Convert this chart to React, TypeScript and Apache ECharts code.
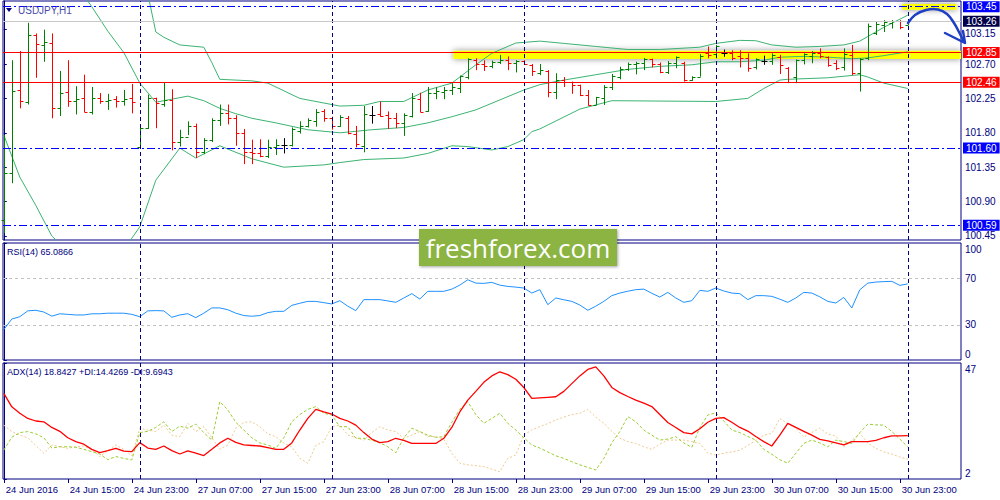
import React, { useEffect, useRef } from 'react';
import * as echarts from 'echarts';

// time labels under the ADX pane, one every 8 hourly bars
const tickLabels = [
  '24 Jun 2016', '24 Jun 15:00', '24 Jun 23:00', '27 Jun 07:00', '27 Jun 15:00',
  '27 Jun 23:00', '28 Jun 07:00', '28 Jun 15:00', '28 Jun 23:00', '29 Jun 07:00',
  '29 Jun 15:00', '29 Jun 23:00', '30 Jun 07:00', '30 Jun 15:00', '30 Jun 23:00',
];

// USDJPY H1 bars (114 bars)
const opens = [
  100.66, 101.27, 102.36, 102.2, 103.08, 102.95, 102.98, 102.13, 102.34, 102.21,
  102.25, 102.07, 102.25, 102.21, 102.24, 102.22, 102.25, 101.62, 101.86, 102.25,
  102.18, 102.23, 101.68, 101.75, 101.89, 101.55, 101.71, 101.97, 102.06, 102.0,
  101.8, 101.55, 101.53, 101.49, 101.61, 101.64, 101.64, 101.83, 101.89, 101.96,
  102.085, 102.0, 101.89, 102.0, 101.79, 101.63, 102.03, 102.05, 102.03, 101.99,
  101.93, 102.02, 102.24, 102.08, 102.32, 102.34, 102.36, 102.38, 102.53, 102.75,
  102.7, 102.67, 102.73, 102.75, 102.72, 102.74, 102.69, 102.58, 102.61, 102.34,
  102.49, 102.46, 102.425, 102.295, 102.17, 102.26, 102.4, 102.53, 102.63, 102.7,
  102.72, 102.76, 102.7, 102.6, 102.71, 102.72, 102.49, 102.53, 102.84, 102.83,
  102.85, 102.85, 102.8, 102.775, 102.665, 102.745, 102.745, 102.795, 102.645, 102.535,
  102.755, 102.805, 102.85, 102.79, 102.72, 102.665, 102.82, 102.58, 102.775, 103.11,
  103.21, 103.24, 103.265, 103.21,
];
const highs = [
  101.77, 102.75, 102.87, 103.24, 103.1, 103.15, 103.1, 102.61, 102.75, 102.41,
  102.56, 102.4, 102.32, 102.31, 102.28, 102.36, 102.44, 101.88, 102.3, 102.26,
  102.46, 102.37, 101.84, 101.95, 101.92, 101.73, 101.99, 102.17, 102.17, 102.03,
  101.85, 101.71, 101.715, 101.71, 101.715, 101.73, 101.87, 101.95, 101.99, 102.11,
  102.11, 102.01, 102.03, 102.02, 101.89, 102.15, 102.15, 102.21, 102.08, 102.06,
  102.055, 102.32, 102.325, 102.4, 102.395, 102.4, 102.45, 102.55, 102.775, 102.775,
  102.75, 102.745, 102.82, 102.8, 102.75, 102.75, 102.7, 102.7, 102.62, 102.58,
  102.53, 102.47, 102.43, 102.36, 102.27, 102.425, 102.57, 102.665, 102.72, 102.73,
  102.78, 102.77, 102.72, 102.74, 102.8, 102.73, 102.54, 102.83, 102.93, 102.95,
  102.89, 102.88, 102.88, 102.84, 102.775, 102.81, 102.84, 102.82, 102.66, 102.76,
  102.84, 102.87, 102.905, 102.8, 102.75, 102.905, 102.95, 102.775, 103.23, 103.25,
  103.275, 103.275, 103.275, 103.27,
];
const lows = [
  100.485, 101.14, 102.12, 102.17, 102.52, 102.73, 101.99, 102.02, 102.14, 102.04,
  102.07, 102.04, 102.18, 102.1, 102.13, 102.155, 102.055, 101.61, 101.85, 101.86,
  102.14, 101.57, 101.62, 101.77, 101.47, 101.52, 101.68, 101.89, 101.91, 101.63,
  101.39, 101.39, 101.48, 101.47, 101.51, 101.53, 101.62, 101.79, 101.87, 101.88,
  101.945, 101.84, 101.88, 101.78, 101.61, 101.545, 101.92, 102.01, 101.85, 101.86,
  101.76, 102.0, 102.07, 102.075, 102.24, 102.24, 102.295, 102.32, 102.5, 102.62,
  102.61, 102.645, 102.7, 102.62, 102.59, 102.69, 102.545, 102.555, 102.265, 102.24,
  102.4, 102.31, 102.28, 102.155, 102.165, 102.165, 102.36, 102.5, 102.61, 102.565,
  102.62, 102.655, 102.58, 102.57, 102.645, 102.47, 102.48, 102.535, 102.775, 102.775,
  102.795, 102.75, 102.655, 102.6, 102.63, 102.69, 102.69, 102.57, 102.45, 102.45,
  102.695, 102.71, 102.775, 102.665, 102.62, 102.615, 102.555, 102.34, 102.75, 103.08,
  103.12, 103.165, 103.155, 103.21,
];
const closes = [
  101.27, 102.35, 102.215, 103.08, 102.96, 102.985, 102.12, 102.32, 102.21, 102.24,
  102.07, 102.26, 102.22, 102.23, 102.22, 102.245, 102.2, 101.865, 102.25, 102.185,
  102.23, 101.685, 101.75, 101.89, 101.555, 101.705, 101.97, 102.065, 102.0, 101.8,
  101.55, 101.53, 101.49, 101.61, 101.64, 101.64, 101.845, 101.89, 101.97, 102.075,
  102.0, 101.89, 102.01, 101.795, 101.655, 102.045, 102.03, 102.02, 101.99, 101.925,
  102.03, 102.25, 102.075, 102.325, 102.345, 102.36, 102.405, 102.54, 102.76, 102.7,
  102.675, 102.73, 102.755, 102.72, 102.745, 102.7, 102.615, 102.62, 102.34, 102.49,
  102.47, 102.425, 102.295, 102.165, 102.265, 102.405, 102.54, 102.635, 102.7, 102.72,
  102.76, 102.695, 102.59, 102.72, 102.79, 102.49, 102.525, 102.81, 102.82, 102.935,
  102.85, 102.775, 102.775, 102.645, 102.76, 102.745, 102.82, 102.69, 102.47, 102.755,
  102.825, 102.84, 102.805, 102.69, 102.645, 102.83, 102.58, 102.76, 103.195, 103.225,
  103.255, 103.265, 103.19, 103.26,
];

// Bollinger bands (20, 2) as [bar, price]
const upperBand = [
  [0, 108.8], [5, 108.5], [10, 107.6], [14, 106.0], [17, 104.4], [18, 103.62], [19, 103.12],
  [20, 103.05], [22, 102.95], [25, 102.92], [26, 102.72], [27, 102.5], [31, 102.48], [33, 102.45],
  [37, 102.25], [42, 102.15], [45, 102.16], [47, 102.21], [50, 102.21], [53, 102.36], [56, 102.45],
  [59, 102.69], [61, 102.84], [64, 102.975], [67, 103.0], [70, 102.97], [74, 102.93], [78, 102.89],
  [82, 102.89], [87, 102.92], [89, 102.97], [92, 103.01], [94, 103.005], [96, 102.95], [99, 102.92],
  [102, 102.93], [105, 102.95], [107, 103.0], [108, 103.06], [110, 103.18], [113, 103.34],
];
const middleBand = [
  [0, 105.1], [3, 104.8], [6, 104.3], [9, 103.75], [11, 103.45], [13, 103.13], [15, 102.85],
  [17, 102.45], [19, 102.2], [21, 102.24], [23, 102.28], [25, 102.22], [27, 102.12], [29, 102.05],
  [31, 101.99], [34, 101.93], [38, 101.84], [42, 101.8], [46, 101.84], [50, 101.87], [53, 101.93],
  [56, 102.01], [59, 102.1], [62, 102.23], [65, 102.36], [67, 102.43], [70, 102.49], [74, 102.56],
  [78, 102.63], [82, 102.67], [86, 102.69], [89, 102.73], [92, 102.73], [95, 102.75], [97, 102.79],
  [100, 102.8], [103, 102.79], [106, 102.77], [108, 102.78], [110, 102.81], [113, 102.86],
];
const lowerBand = [
  [0, 101.77], [2, 101.22], [4, 100.85], [6, 100.45], [9, 100.15], [12, 100.05], [14, 100.2],
  [16, 100.42], [17, 100.57], [19, 101.18], [22, 101.6], [24, 101.47], [27, 101.63], [31, 101.46],
  [35, 101.35], [40, 101.38], [42, 101.41], [45, 101.45], [50, 101.47], [53, 101.53], [56, 101.63],
  [58, 101.62], [61, 101.575], [63, 101.62], [65, 101.71], [66, 101.815], [67, 101.85], [72, 102.11],
  [76, 102.22], [89, 102.21], [93, 102.25], [95, 102.38], [97, 102.49], [98, 102.5], [103, 102.52],
  [107, 102.56], [108, 102.53], [110, 102.45], [113, 102.38],
];

const rsiValues = [
  26, 35, 37, 42, 42.5, 41, 37.5, 39.5, 39, 38.5,
  38.5, 39.5, 39.5, 40, 40, 40, 39, 37, 42, 42.2,
  42, 36.5, 38.5, 39.6, 36.2, 40, 44.5, 44.5, 43, 40,
  38, 37.4, 38, 40.5, 41.6, 41.6, 46.7, 48.5, 50.1, 50.1,
  49, 47.9, 50.7, 46, 42.2, 51.6, 51.6, 51.6, 50.5, 49.3,
  53, 56.7, 52.1, 58.7, 58.7, 58.7, 60.6, 64, 68.6, 65.7,
  65.5, 66.3, 64, 62.9, 62.3, 61.5, 57.2, 60.1, 47.3, 53,
  51.5, 50.1, 47, 42.5, 46, 50.1, 55, 57.2, 58.8, 60.1,
  60.6, 57, 53.8, 57.8, 53, 49.3, 50.7, 59.5, 58.7, 61.5,
  59, 57.2, 56.7, 51.6, 55, 55, 54.4, 52, 49.3, 53,
  57.8, 57.2, 54, 50.1, 48.7, 53.5, 44.5, 60, 65.7, 66.6,
  67, 67.2, 63.8, 65.09,
];
const adxValues = [
  35.2, 30, 27.5, 25.5, 24.5, 24.2, 22, 20.5, 18, 16.5,
  15.5, 13.5, 12.2, 13, 13.9, 12.8, 12.6, 16.1, 14, 13.5,
  14.8, 13, 11.7, 12.9, 12, 11.1, 13.5, 16, 17.8, 16.2,
  15.2, 15, 14.8, 14.2, 13.5, 13.5, 16, 21, 25.5, 29,
  28, 27.2, 25.5, 24.5, 22.9, 20, 17.5, 16.1, 16.5, 17.8,
  17, 15.8, 15.8, 15.8, 15.8, 17.8, 22, 28, 32.6, 36,
  39.5, 42, 43.6, 42.5, 40.7, 37.5, 33.3, 33.5, 33.7, 33.9,
  36, 39, 42, 44.5, 45.5, 42, 37.5, 35.5, 34, 32.6,
  31.4, 30.1, 27, 23.9, 22, 20, 19.5, 21.5, 24, 25.5,
  25.8, 24, 22, 20.6, 18.5, 16.5, 14.8, 19, 23.6, 22,
  20.5, 19, 17.4, 16.8, 16, 15.2, 16.5, 16.5, 16.5, 17,
  18, 18.7, 18.7, 18.84,
];
const plusDi = [
  13.2, 18.2, 20, 20.4, 19.5, 18, 14, 14.5, 14.5, 14.3,
  13.5, 12.6, 11.7, 9.5, 10.7, 10, 9.4, 20, 20.5, 22,
  24.2, 20.4, 22.5, 21.7, 23.3, 20, 17.1, 32, 28.8, 24,
  21, 18, 16, 15.2, 13.9, 18, 24.2, 27, 29, 30.1,
  27.5, 26.8, 22.3, 22.3, 17.8, 17.8, 17, 16.1, 14.5, 12.2,
  18, 21.7, 20.4, 19, 18.2, 18.4, 24, 29, 32, 27,
  23.6, 25.5, 27.5, 23.6, 21, 18, 15.2, 14, 12.5, 11,
  10, 8.7, 7.5, 6.5, 5.5, 10, 16, 20.4, 26.2, 24.2,
  21, 19, 17.1, 17.5, 18.4, 16, 14.3, 22, 26.8, 27.7,
  24.5, 21, 20, 18.5, 17.1, 13.5, 11.6, 9.5, 8.1, 12,
  15.8, 17.1, 16, 14.5, 17.1, 16.5, 15.8, 20, 23.3, 23,
  22.9, 20.4, 17.5, 14.43,
];
const minusDi = [
  22.9, 20.4, 19, 18, 15, 12, 15.2, 14.5, 13.9, 14.5,
  14.8, 13.5, 10.7, 13, 15.2, 13.5, 11, 21.7, 21, 20.4,
  22.9, 19, 18.4, 23.6, 20.4, 22.3, 18, 13.5, 15.2, 21.7,
  24, 24.2, 22.3, 19.5, 18.4, 16, 14.5, 10, 8.1, 15,
  16.5, 22.3, 22.9, 19.1, 18, 17.1, 20, 22.3, 21, 20.4,
  17.8, 19, 20.4, 18.5, 18.4, 17.4, 12, 8.1, 7.5, 7.2,
  6.8, 5.8, 4.8, 10, 11.3, 19.1, 21, 22.3, 23.5, 24.9,
  26, 27, 27.5, 29, 26, 23.6, 20.5, 17.8, 16.5, 15.8,
  14.5, 13.5, 15.5, 17.1, 17.1, 17.1, 16.5, 15.8, 12, 11.3,
  12, 12.5, 13.2, 15, 17, 19, 19.7, 25.5, 23.5, 21.7,
  18.2, 20, 21.7, 19.5, 18.7, 14.5, 17, 19.7, 16, 13.9,
  12.5, 11.7, 10.5, 9.69,
];

const priceTicks = [100.45, 100.9, 101.35, 101.8, 102.25, 102.7, 103.15];
const blueLevels = [103.45, 101.6, 100.59];
const redLevels = [102.85, 102.46];
const bidPrice = 103.26;
const rsiLevels = [30, 70];
const daySeparators = [17, 41, 65, 89, 113];
// highlighted zones: [fromBar, toBar, top, bottom]
const zones = [
  [56.2, 119.65, 102.875, 102.765],
  [112.3, 119.1, 103.485, 103.41],
];

const NAVY = '#000080';
const GREEN = '#008000';
const RED = '#ff0000';
const BLUE = '#0000ff';
const BAND = '#3cb371';
const FONT = 'Liberation Sans, Arial, sans-serif';
const X_MIN = -0.1;
const X_MAX = 119.65;

const App: React.FC = () => {
  const chartRef = useRef<HTMLDivElement>(null);

  useEffect(() => {
    if (!chartRef.current) return undefined;
    const chart = echarts.init(chartRef.current, null, { renderer: 'svg' });

    const bars = opens.map((o, i) => [i, o, highs[i], lows[i], closes[i]]);
    const tickIndex = tickLabels.map((_, k) => k * 8);
    const snap = (v: number) => Math.round(v) + 0.5;

    const renderBar = (_params: any, api: any) => {
      const i = api.value(0);
      const o = api.value(1);
      const c = api.value(4);
      const x = snap(api.coord([i, o])[0]);
      const yO = snap(api.coord([i, o])[1]);
      const yH = api.coord([i, api.value(2)])[1];
      const yL = api.coord([i, api.value(3)])[1];
      const yC = snap(api.coord([i, c])[1]);
      const color = c > o ? GREEN : c < o ? RED : '#000000';
      const style = { stroke: color, lineWidth: 1 };
      return {
        type: 'group',
        children: [
          { type: 'line', shape: { x1: x, y1: yH, x2: x, y2: yL }, style },
          { type: 'line', shape: { x1: x - 3, y1: yO, x2: x, y2: yO }, style },
          { type: 'line', shape: { x1: x, y1: yC, x2: x + 3, y2: yC }, style },
        ],
      };
    };

    const boxLabel = (bg: string) => ({
      show: true,
      position: 'end',
      distance: 2,
      formatter: (p: any) => Number(p.value).toFixed(2),
      color: '#ffffff',
      backgroundColor: bg,
      padding: [1, 3, 0, 3],
      fontSize: 10,
      fontFamily: FONT,
    });

    const separatorLines = daySeparators.map((v) => ({
      xAxis: v,
      lineStyle: { color: NAVY, type: [4, 3], width: 1 },
      label: { show: false },
    }));

    const hiddenX = (gridIndex: number) => ({
      type: 'value',
      gridIndex,
      min: X_MIN,
      max: X_MAX,
      show: false,
      splitLine: { show: false },
    });

    const edgeRich = {
      dn: { padding: [12, 0, 0, 0], color: NAVY, fontSize: 10, fontFamily: FONT },
      up: { padding: [0, 0, 12, 0], color: NAVY, fontSize: 10, fontFamily: FONT },
      low: { padding: [7, 0, 0, 0], color: NAVY, fontSize: 10, fontFamily: FONT },
    };

    const option: any = {
      animation: false,
      textStyle: { fontFamily: FONT },
      grid: [
        { left: 3, width: 958, top: 1, height: 239, show: true, borderColor: NAVY, borderWidth: 1, backgroundColor: '#ffffff' },
        { left: 3, width: 958, top: 243, height: 117, show: true, borderColor: NAVY, borderWidth: 1, backgroundColor: '#ffffff' },
        { left: 3, width: 958, top: 363, height: 116, show: true, borderColor: NAVY, borderWidth: 1, backgroundColor: '#ffffff' },
      ],
      xAxis: [
        hiddenX(0),
        hiddenX(1),
        {
          type: 'value',
          gridIndex: 2,
          min: X_MIN,
          max: X_MAX,
          splitLine: { show: false },
          axisLine: { show: false },
          axisTick: { show: true, customValues: tickIndex, length: 4, lineStyle: { color: NAVY } },
          axisLabel: {
            customValues: tickIndex,
            formatter: (v: number) => tickLabels[Math.round(v / 8)],
            align: 'left',
            padding: [0, 0, 0, 2],
            margin: 5,
            color: NAVY,
            fontSize: 9.5,
            fontFamily: FONT,
          },
        },
      ],
      yAxis: [
        {
          type: 'value',
          gridIndex: 0,
          position: 'right',
          min: 100.397,
          max: 103.525,
          splitLine: { show: false },
          axisLine: { show: true, lineStyle: { color: NAVY } },
          axisTick: { show: true, customValues: priceTicks, length: 3, lineStyle: { color: NAVY } },
          axisLabel: {
            customValues: priceTicks,
            // the top tick sits just under the bid box, as in the terminal
            formatter: (v: number) => (v === 103.15 ? `{low|${v.toFixed(2)}}` : v.toFixed(2)),
            rich: edgeRich,
            color: NAVY,
            fontSize: 10,
            margin: 4,
            fontFamily: FONT,
          },
        },
        {
          type: 'value',
          gridIndex: 1,
          position: 'right',
          min: 0,
          max: 100,
          splitLine: { show: false },
          axisLine: { show: true, lineStyle: { color: NAVY } },
          axisTick: { show: true, customValues: [0, 30, 70, 100], length: 3, lineStyle: { color: NAVY } },
          axisLabel: {
            customValues: [0, 30, 70, 100],
            formatter: (v: number) => (v === 100 ? '{dn|100}' : v === 0 ? '{up|0}' : String(v)),
            rich: edgeRich,
            color: NAVY,
            fontSize: 10,
            margin: 4,
            fontFamily: FONT,
          },
        },
        {
          type: 'value',
          gridIndex: 2,
          position: 'right',
          min: 2,
          max: 47,
          splitLine: { show: false },
          axisLine: { show: true, lineStyle: { color: NAVY } },
          axisTick: { show: true, customValues: [2, 47], length: 3, lineStyle: { color: NAVY } },
          axisLabel: {
            customValues: [2, 47],
            formatter: (v: number) => (v === 47 ? '{dn|47}' : '{up|2}'),
            rich: edgeRich,
            color: NAVY,
            fontSize: 10,
            margin: 4,
            fontFamily: FONT,
          },
        },
      ],
      series: [
        {
          name: 'zones',
          type: 'line',
          xAxisIndex: 0,
          yAxisIndex: 0,
          data: [],
          z: 1,
          silent: true,
          markArea: {
            silent: true,
            itemStyle: { color: '#ffff00', shadowBlur: 6, shadowColor: 'rgba(0,0,0,0.45)' },
            data: zones.map(([x0, x1, top, bottom]) => [
              { xAxis: x0, yAxis: top },
              { xAxis: x1, yAxis: bottom },
            ]),
          },
        },
        {
          name: 'levels',
          type: 'line',
          xAxisIndex: 0,
          yAxisIndex: 0,
          data: [],
          z: 2,
          silent: true,
          markLine: {
            silent: true,
            symbol: ['none', 'none'],
            data: [
              ...separatorLines,
              { yAxis: bidPrice, lineStyle: { color: '#c8c8c8', type: 'solid', width: 1 }, label: boxLabel('#000048') },
              ...blueLevels.map((v) => ({
                yAxis: v,
                lineStyle: { color: BLUE, type: [8, 3, 2, 3], width: 1 },
                label: boxLabel(BLUE),
              })),
              ...redLevels.map((v) => ({
                yAxis: v,
                lineStyle: { color: RED, type: 'solid', width: 1 },
                label: boxLabel(RED),
              })),
            ],
          },
        },
        ...[upperBand, middleBand, lowerBand].map((band) => ({
          type: 'line',
          xAxisIndex: 0,
          yAxisIndex: 0,
          data: band,
          showSymbol: false,
          z: 3,
          lineStyle: { color: BAND, width: 1 },
        })),
        {
          name: 'USDJPY',
          type: 'custom',
          xAxisIndex: 0,
          yAxisIndex: 0,
          data: bars,
          encode: { x: 0, y: [1, 2, 3, 4] },
          renderItem: renderBar,
          z: 4,
        },
        {
          name: 'RSI',
          type: 'line',
          xAxisIndex: 1,
          yAxisIndex: 1,
          data: rsiValues.map((v, i) => [i, v]),
          showSymbol: false,
          z: 3,
          lineStyle: { color: '#1e90ff', width: 1 },
          markLine: {
            silent: true,
            symbol: ['none', 'none'],
            data: [
              ...separatorLines,
              ...rsiLevels.map((v) => ({
                yAxis: v,
                lineStyle: { color: '#c0c0c0', type: [3, 3], width: 1 },
                label: { show: false },
              })),
            ],
          },
        },
        {
          name: '-DI',
          type: 'line',
          xAxisIndex: 2,
          yAxisIndex: 2,
          data: minusDi.map((v, i) => [i, v]),
          showSymbol: false,
          z: 3,
          lineStyle: { color: '#f0c890', width: 1, type: [2, 2] },
          markLine: { silent: true, symbol: ['none', 'none'], data: separatorLines },
        },
        {
          name: '+DI',
          type: 'line',
          xAxisIndex: 2,
          yAxisIndex: 2,
          data: plusDi.map((v, i) => [i, v]),
          showSymbol: false,
          z: 3,
          lineStyle: { color: '#9acd32', width: 1, type: [3, 2] },
        },
        {
          name: 'ADX',
          type: 'line',
          xAxisIndex: 2,
          yAxisIndex: 2,
          data: adxValues.map((v, i) => [i, v]),
          showSymbol: false,
          z: 4,
          lineStyle: { color: RED, width: 1.3 },
        },
      ],
      graphic: [
        { type: 'polygon', z: 50, shape: { points: [[6, 8], [12, 8], [9, 12]] }, style: { fill: NAVY } },
        {
          type: 'text', z: 50, x: 18, y: 10,
          style: { text: 'USDJPY,H1', fill: '#4a4aa8', fontSize: 10, fontFamily: FONT, verticalAlign: 'middle' },
        },
        {
          type: 'text', z: 50, x: 7, y: 252,
          style: { text: 'RSI(14) 65.0866', fill: NAVY, fontSize: 9, fontFamily: FONT, verticalAlign: 'middle' },
        },
        {
          type: 'text', z: 50, x: 7, y: 372,
          style: { text: 'ADX(14) 18.8427 +DI:14.4269 -DI:9.6943', fill: NAVY, fontSize: 9, fontFamily: FONT, verticalAlign: 'middle' },
        },
        {
          type: 'rect', z: 100,
          shape: { x: 419, y: 229, width: 198, height: 37 },
          style: { fill: '#8cb443', shadowBlur: 3, shadowOffsetX: 1, shadowOffsetY: 1, shadowColor: 'rgba(0,0,0,0.35)' },
        },
        {
          type: 'text', z: 101, x: 518, y: 248,
          style: { text: 'freshforex.com', fill: '#ffffff', fontSize: 26, fontFamily: 'Open Sans', align: 'center', verticalAlign: 'middle' },
        },
        {
          type: 'polyline', z: 60,
          shape: { points: [[908, 23], [915, 15], [926, 10], [938, 9.5], [947, 14], [954, 23], [959, 32], [964, 42]], smooth: 0.4 },
          style: { stroke: '#1f3fc4', lineWidth: 2.5, fill: 'none', lineCap: 'round' },
        },
        {
          type: 'polyline', z: 60,
          shape: { points: [[945, 33], [965, 43], [963, 31]] },
          style: { stroke: '#1f3fc4', lineWidth: 2.5, fill: 'none', lineCap: 'round', lineJoin: 'round' },
        },
      ],
    };

    chart.setOption(option);

    return () => {
      chart.dispose();
    };
  }, []);

  return (
    <div
      ref={chartRef}
      style={{ position: 'fixed', left: 0, top: 0, width: 1000, height: 500, background: '#ffffff' }}
    />
  );
};

export default App;
